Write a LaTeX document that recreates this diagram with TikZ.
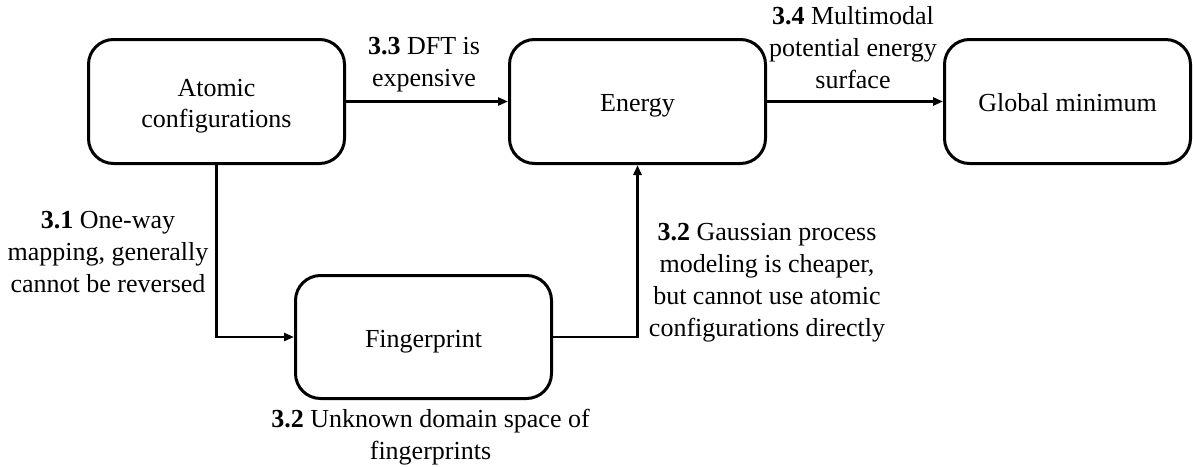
\documentclass[tikz,border=0pt]{standalone}
\usepackage{fontspec}
\setmainfont{Liberation Serif}
\usetikzlibrary{arrows.meta}
\newcommand{\lowtext}[1]{\raisebox{-4pt}[\height][\depth]{\begin{tabular}{@{}c@{}}#1\end{tabular}}}
\begin{document}
\begin{tikzpicture}[x=1pt,y=-1pt,
  box/.style={draw,line width=3pt,rounded corners=25pt,minimum width=#1,minimum height=124pt,inner sep=0pt,font=\fontsize{26pt}{31pt}\selectfont},
  lbl/.style={font=\fontsize{26pt}{32pt}\selectfont,align=center,inner sep=0pt},
  arr/.style={line width=2.6pt,-{Triangle[length=10pt,width=8pt]}}]
\useasboundingbox (0,0) rectangle (1193,466);
\node[box=256pt] (atom) at (216.5,101.5) {\lowtext{Atomic\\configurations}};
\node[box=256pt] (energy) at (637.5,101.5) {\lowtext{Energy}};
\node[box=246pt] (glob) at (1067.5,101.5) {\lowtext{Global minimum}};
\node[box=256pt,minimum height=123pt] (fp) at (423.5,337) {\lowtext{Fingerprint}};
\draw[arr] (atom.east) -- (energy.west);
\draw[arr] (energy.east) -- (glob.west);
\draw[arr] (atom.south) |- (fp.west);
\draw[arr] (fp.east) -| (energy.south);
\node[lbl] (l33) at (424,65) {\textbf{3.3} DFT is\\expensive};
\node[lbl] (l34) at (853,48) {\textbf{3.4} Multimodal\\potential energy\\surface};
\node[lbl] (l31) at (108,252) {\textbf{3.1} One-way\\mapping, generally\\cannot be reversed};
\node[lbl] (l32a) at (767,283) {\textbf{3.2} Gaussian process\\modeling is cheaper,\\but cannot use atomic\\configurations directly};
\node[lbl] (l32b) at (430.5,437.5) {\textbf{3.2} Unknown domain space of\\fingerprints};
\end{tikzpicture}
\end{document}
